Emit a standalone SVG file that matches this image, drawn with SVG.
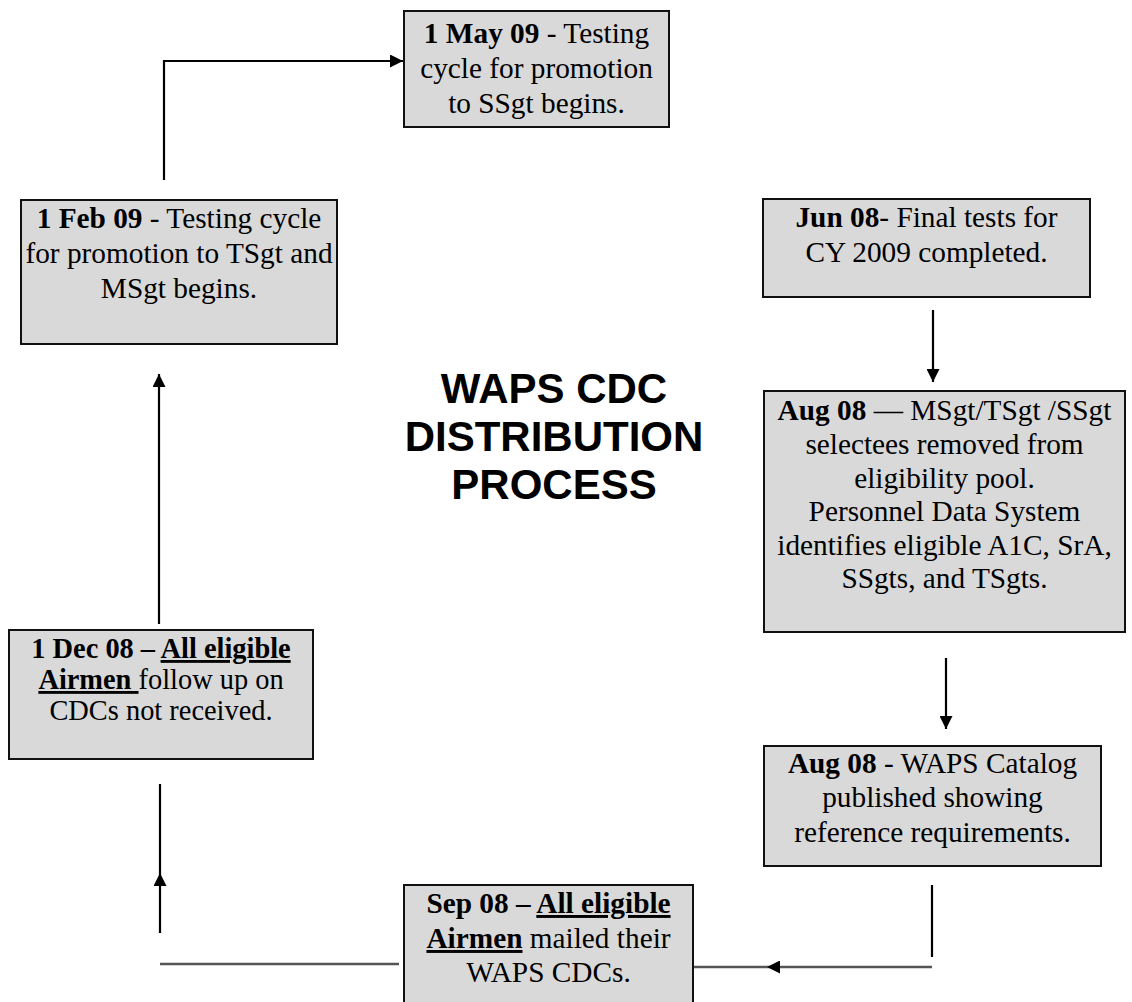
<svg xmlns="http://www.w3.org/2000/svg" width="1132" height="1002" viewBox="0 0 1132 1002">
<style>
.box{fill:#d9d9d9;stroke:#111;stroke-width:2}
.t{font-family:"Liberation Serif","Times New Roman",serif;font-size:29.3px;fill:#000;text-anchor:middle}
.s{font-size:28.4px}
.b{font-weight:bold}
.u{text-decoration:underline}
.title{font-family:"Liberation Sans",Arial,sans-serif;font-size:42px;font-weight:bold;fill:#000;text-anchor:middle}
.c{fill:none;stroke:#000;stroke-width:2.2}
.g{fill:none;stroke:#555;stroke-width:2.6}
</style>
<defs>
<marker id="ah" viewBox="0 0 10 10" refX="10" refY="5" markerWidth="15" markerHeight="13" markerUnits="userSpaceOnUse" orient="auto">
<path d="M0,0 L10,5 L0,10 z" fill="#000"/>
</marker>
</defs>
<rect width="1132" height="1002" fill="#fff"/>

<g id="connectors">
<path class="c" d="M164,180 L164,61 L403,61" marker-end="url(#ah)"/>
<path class="c" d="M159,624 L159,374" marker-end="url(#ah)"/>
<path class="c" d="M160,933 L160,873" marker-end="url(#ah)"/>
<path class="c" d="M160,873 L160,784"/>
<path class="g" d="M160,964 L399,964"/>
<path class="c" d="M933,310 L933,382" marker-end="url(#ah)"/>
<path class="c" d="M946,658 L946,729" marker-end="url(#ah)"/>
<path class="c" d="M932,885 L932,957"/>
<path class="g" d="M932,967 L767,967" marker-end="url(#ah)"/>
<path class="g" d="M767,967 L693,967"/>
</g>

<g id="node-may09">
<rect class="box" x="404" y="11" width="265" height="116"/>
<text class="t" x="536.5" y="43"><tspan class="b">1 May 09</tspan> - Testing</text>
<text class="t" x="536.5" y="78">cycle for promotion</text>
<text class="t" x="536.5" y="113">to SSgt begins.</text>
</g>

<g id="node-feb09">
<rect class="box" x="21" y="200" width="316" height="144"/>
<text class="t" x="179" y="228"><tspan class="b">1 Feb 09</tspan> - Testing cycle</text>
<text class="t" x="179" y="263">for promotion to TSgt and</text>
<text class="t" x="179" y="298">MSgt begins.</text>
</g>

<g id="node-jun08">
<rect class="box" x="763" y="199" width="327" height="98"/>
<text class="t" x="926.5" y="227"><tspan class="b">Jun 08</tspan>- Final tests for</text>
<text class="t" x="926.5" y="262">CY 2009 completed.</text>
</g>

<g id="node-aug08a">
<rect class="box" x="764" y="391" width="361" height="241"/>
<text class="t" x="944.5" y="420"><tspan class="b">Aug 08</tspan> — MSgt/TSgt /SSgt</text>
<text class="t" x="944.5" y="454">selectees removed from</text>
<text class="t" x="944.5" y="488">eligibility pool.</text>
<text class="t" x="944.5" y="521">Personnel Data System</text>
<text class="t" x="944.5" y="555">identifies eligible A1C, SrA,</text>
<text class="t" x="944.5" y="588">SSgts, and TSgts.</text>
</g>

<g id="node-aug08b">
<rect class="box" x="764" y="746" width="337" height="120"/>
<text class="t" x="932.5" y="773"><tspan class="b">Aug 08</tspan> - WAPS Catalog</text>
<text class="t" x="932.5" y="807">published showing</text>
<text class="t" x="932.5" y="842">reference requirements.</text>
</g>

<g id="node-sep08">
<rect class="box" x="404" y="885" width="289" height="130"/>
<text class="t" x="548.5" y="913"><tspan class="b">Sep 08 – </tspan><tspan class="b u">All eligible</tspan></text>
<text class="t" x="548.5" y="948"><tspan class="b u">Airmen</tspan> mailed their</text>
<text class="t" x="548.5" y="982">WAPS CDCs.</text>
</g>

<g id="node-dec08">
<rect class="box" x="9" y="630" width="304" height="129"/>
<text class="t s" x="161" y="658"><tspan class="b">1 Dec 08 – </tspan><tspan class="b u">All eligible</tspan></text>
<text class="t s" x="161" y="689"><tspan class="b u">Airmen </tspan>follow up on</text>
<text class="t s" x="161" y="720">CDCs not received.</text>
</g>

<g id="title">
<text class="title" x="554" y="403">WAPS CDC</text>
<text class="title" x="554" y="451">DISTRIBUTION</text>
<text class="title" x="554" y="499">PROCESS</text>
</g>
</svg>
